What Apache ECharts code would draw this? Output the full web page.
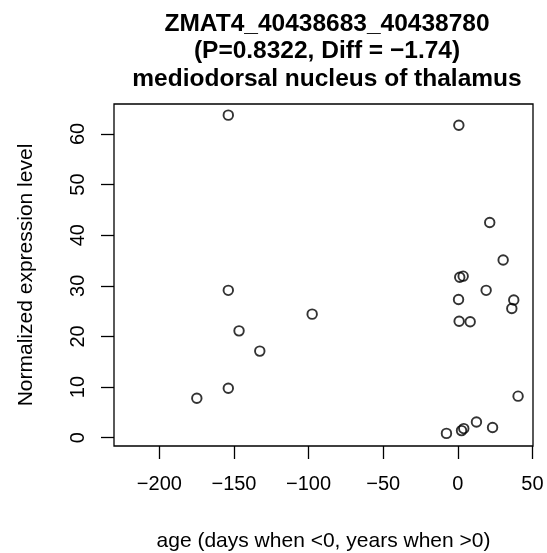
<!DOCTYPE html>
<html>
<head>
<meta charset="utf-8">
<script src="https://cdn.jsdelivr.net/npm/echarts@6/dist/echarts.min.js"></script>
<style>html,body{margin:0;padding:0;background:#fff;}#c{width:547px;height:553px;}</style>
</head>
<body>
<div id="c"></div>
<script>
const ages = [-153.8, -153.8, -146.6, -132.7, -153.8, -174.9, -97.6, 0.7, 21.4, 30.4, 1.3, 3.6, 19.0, 0.5, 37.5, 36.2, 0.9, 8.3, 40.4, 12.5, 23.3, -7.6, 2.5, 4.0];
const values = [63.7, 29.1, 21.1, 17.1, 9.75, 7.8, 24.4, 61.7, 42.5, 35.1, 31.7, 31.9, 29.1, 27.3, 27.2, 25.5, 23.0, 22.9, 8.2, 3.1, 2.0, 0.85, 1.4, 1.8];
const xTicks = [-200, -150, -100, -50, 0, 50];
const yTicks = [0, 10, 20, 30, 40, 50, 60];
const titleLines = ['ZMAT4_40438683_40438780', '(P=0.8322, Diff = \u22121.74)', 'mediodorsal nucleus of thalamus'];
const xTitle = 'age (days when <0, years when >0)';
const yTitle = 'Normalized expression level';

const FONT = 'Liberation Sans, Arial, sans-serif';
const fmt = v => String(v).replace('-', '\u2212');

const chart = echarts.init(document.getElementById('c'), null, {renderer: 'canvas'});
chart.setOption({
  animation: false,
  backgroundColor: '#fff',
  title: {
    text: titleLines.join('\n'),
    left: 322,
    top: 5,
    textAlign: 'center',
    textStyle: {fontFamily: FONT, fontWeight: 'bold', fontSize: 24.5, lineHeight: 27.5, color: '#000'}
  },
  grid: {left: 114, right: 14, top: 104, bottom: 107, show: true, borderColor: '#000', borderWidth: 1.3, backgroundColor: 'transparent', outerBoundsMode: 'none', containLabel: false},
  xAxis: {
    type: 'value', min: -230.4, max: 50.4,
    name: xTitle, nameLocation: 'middle', nameGap: 85,
    nameTextStyle: {fontFamily: FONT, fontSize: 21, color: '#000'},
    axisLine: {show: false, onZero: false},
    splitLine: {show: false},
    axisTick: {show: true, length: 13, customValues: xTicks, lineStyle: {color: '#000', width: 1.3}},
    axisLabel: {customValues: xTicks, formatter: fmt, margin: 28, fontFamily: FONT, fontSize: 20, color: '#000'}
  },
  yAxis: {
    type: 'value', min: -1.64, max: 65.9,
    name: yTitle, nameLocation: 'middle', nameRotate: 90, nameGap: 77,
    nameTextStyle: {fontFamily: FONT, fontSize: 21, color: '#000'},
    axisLine: {show: false, onZero: false},
    splitLine: {show: false},
    axisTick: {show: true, length: 13, customValues: yTicks, lineStyle: {color: '#000', width: 1.3}},
    axisLabel: {customValues: yTicks, rotate: 90, formatter: fmt, margin: 26, fontFamily: FONT, fontSize: 20, color: '#000'}
  },
  series: [{
    type: 'scatter',
    data: ages.map((a, i) => [a, values[i]]),
    symbol: 'circle',
    symbolSize: 9.5,
    itemStyle: {color: 'transparent', borderColor: '#000', borderWidth: 1.9}
  }]
});
</script>
</body>
</html>
